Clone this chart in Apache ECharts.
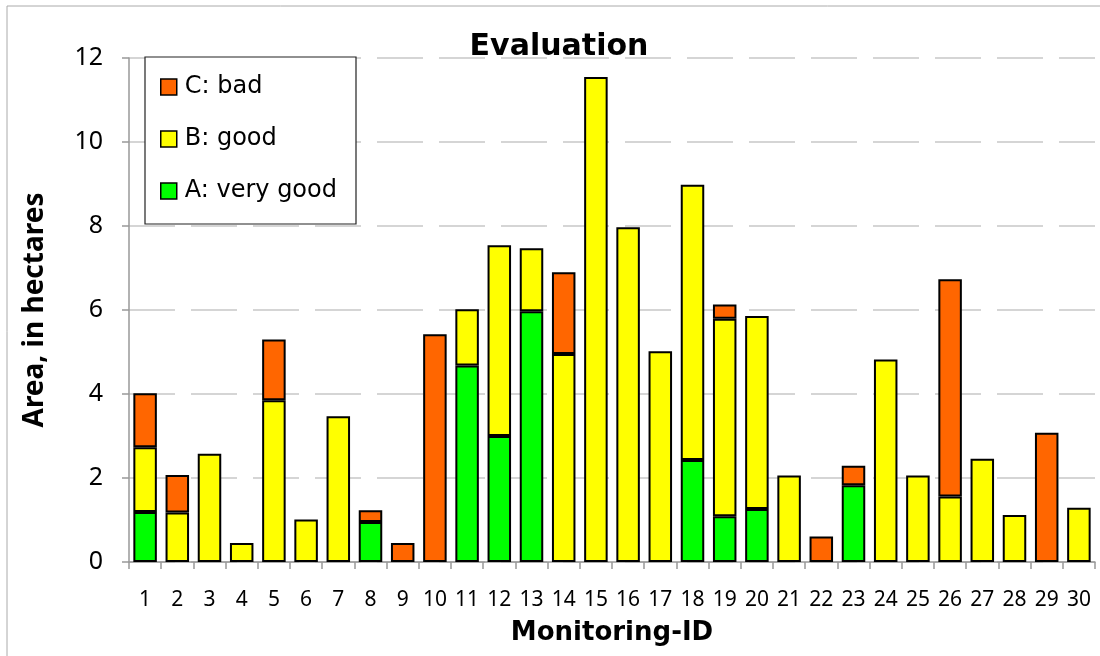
<!DOCTYPE html>
<html>
<head>
<meta charset="utf-8">
<script src="https://cdn.jsdelivr.net/npm/echarts@6/dist/echarts.min.js"></script>
<style>
html,body{margin:0;padding:0;background:#fff;}
#chart{width:1100px;height:656px;}
</style>
</head>
<body>
<div id="chart"></div>
<script>
const categories = ['1','2','3','4','5','6','7','8','9','10','11','12','13','14','15','16','17','18','19','20','21','22','23','24','25','26','27','28','29','30'];
const seriesA = [1.19,null,null,null,null,null,null,0.95,null,null,4.68,3.0,5.97,null,null,null,null,2.43,1.09,1.26,null,null,1.83,null,null,null,null,null,null,null];
const seriesB = [1.54,1.18,2.58,0.45,3.85,1.01,3.47,null,null,null,1.34,4.54,1.5,4.95,11.55,7.97,5.02,6.55,4.7,4.6,2.06,null,null,4.82,2.06,1.56,2.46,1.12,null,1.29];
const seriesC = [1.29,0.89,null,null,1.45,null,null,0.28,0.45,5.42,null,null,null,1.95,null,null,null,null,0.34,null,null,0.61,0.46,null,null,5.17,null,null,3.08,null];
const yTicks = [0,2,4,6,8,10,12];
const legendNames = ['C: bad','B: good','A: very good'];

const FONT = 'Noto Sans';
const chart = echarts.init(document.getElementById('chart'));
function bar(name, data, color){
  return {name, type:'bar', stack:'total', data, barCategoryGap:'27%',
    itemStyle:{color, borderColor:'#000', borderWidth:2}};
}
chart.setOption({
  animation:false,
  textStyle:{fontFamily:FONT},
  graphic:[
    {type:'rect', shape:{x:7,y:6,width:1100,height:670}, style:{fill:'none', stroke:'#aaa', lineWidth:1}, silent:true, z:-1},
    {type:'rect', shape:{x:145,y:57,width:211,height:167}, style:{fill:'#fff', stroke:'#222', lineWidth:1.2}, silent:true, z:5}
  ],
  title:{text:'Evaluation', left:554, textAlign:'center', top:27,
    textStyle:{fontFamily:'DejaVu Sans', fontSize:30, fontWeight:'bold', color:'#000'}},
  legend:{
    orient:'vertical', left:160, top:75, padding:0,
    itemGap:28, itemWidth:16, itemHeight:16, icon:'rect', z:10,
    data:legendNames,
    textStyle:{fontFamily:'DejaVu Sans', fontSize:24, color:'#000', padding:[0,0,0,3]},
    itemStyle:{borderColor:'#000', borderWidth:1.5}
  },
  grid:{left:129, right:5, top:58, bottom:94},
  xAxis:{type:'category', data:categories,
    name:'Monitoring-ID', nameLocation:'middle', nameGap:58,
    nameTextStyle:{fontFamily:'DejaVu Sans', fontSize:26, fontWeight:'bold', color:'#000'},
    axisLine:{lineStyle:{color:'#999', width:1.5}},
    axisTick:{show:true, length:7, lineStyle:{color:'#999', width:1.5}},
    axisLabel:{fontFamily:FONT, fontSize:21, color:'#000', margin:28, interval:0}
  },
  yAxis:{type:'value', min:yTicks[0], max:yTicks[yTicks.length-1], interval:2,
    name:'Area, in hectares', nameLocation:'middle', nameGap:80, nameRotate:90,
    nameTextStyle:{fontFamily:FONT, fontSize:28, fontWeight:'bold', color:'#000'},
    axisLine:{show:true, lineStyle:{color:'#999', width:1.5}},
    axisTick:{show:true, length:7, lineStyle:{color:'#999', width:1.5}},
    axisLabel:{fontFamily:FONT, fontSize:25, color:'#000', margin:26},
    splitLine:{show:true, lineStyle:{color:'#c8c8c8', width:1.5, type:[46,16]}}
  },
  series:[
    bar('A: very good', seriesA, '#00FF00'),
    bar('B: good', seriesB, '#FFFF00'),
    bar('C: bad', seriesC, '#FF6600')
  ]
});
</script>
</body>
</html>
